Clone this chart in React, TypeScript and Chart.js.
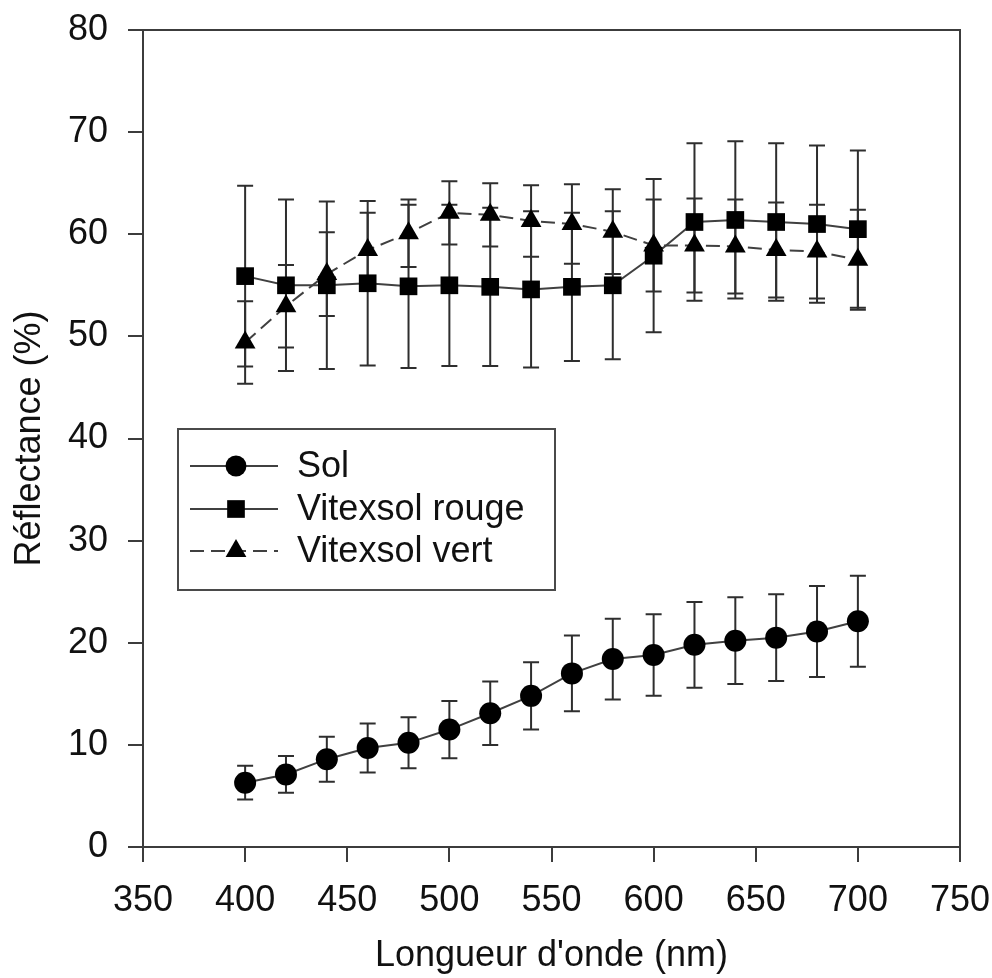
import React, { useEffect, useRef } from "react";
import { Chart, registerables } from "chart.js";

Chart.register(...registerables);

const wavelengths = [400, 420, 440, 460, 480, 500, 520, 540, 560, 580, 600, 620, 640, 660, 680, 700];

const solMean = [6.3, 7.1, 8.6, 9.7, 10.2, 11.5, 13.1, 14.8, 17.0, 18.4, 18.8, 19.8, 20.2, 20.5, 21.1, 22.1];
const solSD = [1.65, 1.8, 2.2, 2.4, 2.5, 2.8, 3.1, 3.3, 3.7, 3.95, 4.0, 4.2, 4.25, 4.25, 4.45, 4.45];

const rougeMean = [55.9, 55.0, 55.0, 55.2, 54.9, 55.0, 54.85, 54.6, 54.85, 55.0, 57.9, 61.2, 61.4, 61.2, 61.0, 60.5];
const rougeSD = [8.85, 8.4, 8.2, 8.05, 8.0, 7.9, 7.75, 7.65, 7.25, 7.25, 7.5, 7.7, 7.7, 7.7, 7.7, 7.7];

const vertMean = [49.4, 52.95, 56.1, 58.45, 60.1, 62.1, 61.9, 61.3, 61.0, 60.25, 58.9, 58.9, 58.8, 58.45, 58.3, 57.5];
const vertSD = [4.05, 4.05, 4.1, 3.65, 3.3, 3.1, 3.1, 3.5, 3.9, 4.15, 4.5, 4.6, 4.6, 4.65, 4.6, 4.9];

const seriesLabels = ["Sol", "Vitexsol rouge", "Vitexsol vert"];
const xTitle = "Longueur d'onde (nm)";
const yTitle = "Réflectance (%)";
const xMin = 350, xMax = 750, xStep = 50;
const yMin = 0, yMax = 80, yStep = 10;

const FONT = "'Liberation Sans', Arial, sans-serif";
const AXIS = "#3c3c3c";
const LINE = "#404040";
const TEXT = "#111111";

const errorBarPlugin = {
  id: "errorBars",
  beforeDatasetsDraw(chart: any) {
    const { ctx, scales } = chart;
    const xs = scales.x, ys = scales.y;
    ctx.save();
    ctx.strokeStyle = "#2e2e2e";
    ctx.lineWidth = 2;
    chart.data.datasets.forEach((ds: any) => {
      const err: number[] = ds.errors || [];
      ds.data.forEach((p: any, i: number) => {
        const e = err[i];
        if (e == null) return;
        const x = xs.getPixelForValue(p.x);
        const yt = ys.getPixelForValue(p.y + e);
        const yb = ys.getPixelForValue(p.y - e);
        const cap = 8;
        ctx.beginPath();
        ctx.moveTo(x, yt);
        ctx.lineTo(x, yb);
        ctx.moveTo(x - cap, yt);
        ctx.lineTo(x + cap, yt);
        ctx.moveTo(x - cap, yb);
        ctx.lineTo(x + cap, yb);
        ctx.stroke();
      });
    });
    ctx.restore();
  },
};

const framePlugin = {
  id: "frame",
  afterDraw(chart: any) {
    const { ctx, chartArea } = chart;
    ctx.save();
    ctx.strokeStyle = AXIS;
    ctx.lineWidth = 2;
    ctx.beginPath();
    ctx.moveTo(chartArea.left, chartArea.top);
    ctx.lineTo(chartArea.right, chartArea.top);
    ctx.lineTo(chartArea.right, chartArea.bottom);
    ctx.stroke();
    ctx.restore();
  },
};

const insideLegendPlugin = {
  id: "insideLegend",
  afterDraw(chart: any) {
    const { ctx } = chart;
    const boxL = 178, boxT = 429, boxR = 555, boxB = 590;
    ctx.save();
    ctx.fillStyle = "#ffffff";
    ctx.fillRect(boxL, boxT, boxR - boxL, boxB - boxT);
    ctx.strokeStyle = "#4a4a4a";
    ctx.lineWidth = 2;
    ctx.strokeRect(boxL, boxT, boxR - boxL, boxB - boxT);
    const rows = [466, 509, 551];
    chart.data.datasets.forEach((ds: any, i: number) => {
      const y = rows[i];
      ctx.save();
      ctx.strokeStyle = LINE;
      ctx.lineWidth = 2;
      ctx.setLineDash(ds.borderDash || []);
      ctx.beginPath();
      ctx.moveTo(190, y);
      ctx.lineTo(278, y);
      ctx.stroke();
      ctx.restore();
      ctx.save();
      ctx.fillStyle = "#000";
      const r = ds.pointRadius;
      const x = 236;
      ctx.beginPath();
      if (ds.pointStyle === "circle") {
        ctx.arc(x, y, r * 0.95, 0, Math.PI * 2);
      } else if (ds.pointStyle === "rect") {
        const s = Math.SQRT1_2 * r;
        ctx.rect(x - s, y - s, 2 * s, 2 * s);
      } else {
        const rr = r;
        ctx.moveTo(x, y - rr);
        ctx.lineTo(x + rr * Math.sin((2 * Math.PI) / 3), y - rr * Math.cos((2 * Math.PI) / 3));
        ctx.lineTo(x + rr * Math.sin((4 * Math.PI) / 3), y - rr * Math.cos((4 * Math.PI) / 3));
        ctx.closePath();
      }
      ctx.fill();
      ctx.restore();
      ctx.fillStyle = TEXT;
      ctx.font = `36px ${FONT}`;
      ctx.textAlign = "left";
      ctx.textBaseline = "middle";
      ctx.fillText(ds.label, 297, y + 1);
    });
    ctx.restore();
  },
};

export default function App() {
  const ref = useRef<HTMLCanvasElement | null>(null);

  useEffect(() => {
    if (!ref.current) return;
    const mk = (xs: number[], ys: number[]) => xs.map((x, i) => ({ x, y: ys[i] }));
    const chart = new Chart(ref.current, {
      type: "line",
      data: {
        datasets: [
          {
            label: seriesLabels[0],
            data: mk(wavelengths, solMean),
            errors: solSD,
            borderColor: LINE,
            borderWidth: 2,
            pointStyle: "circle",
            pointRadius: 11,
            pointBackgroundColor: "#000",
            pointBorderColor: "#000",
            pointBorderWidth: 0,
            tension: 0,
          } as any,
          {
            label: seriesLabels[1],
            data: mk(wavelengths, rougeMean),
            errors: rougeSD,
            borderColor: LINE,
            borderWidth: 2,
            pointStyle: "rect",
            pointRadius: 12.5,
            pointBackgroundColor: "#000",
            pointBorderColor: "#000",
            pointBorderWidth: 0,
            tension: 0,
          } as any,
          {
            label: seriesLabels[2],
            data: mk(wavelengths, vertMean),
            errors: vertSD,
            borderColor: LINE,
            borderWidth: 2,
            borderDash: [14, 7],
            pointStyle: "triangle",
            pointRadius: 12,
            pointBackgroundColor: "#000",
            pointBorderColor: "#000",
            pointBorderWidth: 0,
            tension: 0,
          } as any,
        ],
      },
      options: {
        animation: false,
        responsive: false,
        maintainAspectRatio: false,
        layout: { padding: { top: 30, right: 32, left: 0, bottom: 0 } },
        plugins: {
          legend: { display: false },
          tooltip: { enabled: false },
        },
        scales: {
          x: {
            type: "linear",
            min: xMin,
            max: xMax,
            afterFit: (s: any) => {
              s.height = 131;
              s.paddingLeft = 0;
              s.paddingRight = 0;
            },
            ticks: {
              stepSize: xStep,
              autoSkip: false,
              maxRotation: 0,
              color: TEXT,
              padding: 17,
              font: { family: FONT, size: 36 },
            },
            grid: {
              drawOnChartArea: false,
              drawTicks: true,
              tickLength: 15,
              color: AXIS,
              lineWidth: 2,
            },
            border: { display: true, color: AXIS, width: 2 },
            title: {
              display: true,
              text: xTitle,
              color: TEXT,
              font: { family: FONT, size: 36 },
              padding: { top: 0, bottom: 0 },
            },
          },
          y: {
            type: "linear",
            min: yMin,
            max: yMax,
            afterFit: (s: any) => {
              s.width = 143;
              s.paddingTop = 0;
              s.paddingBottom = 0;
            },
            ticks: {
              stepSize: yStep,
              color: TEXT,
              padding: 20,
              font: { family: FONT, size: 36 },
            },
            grid: {
              drawOnChartArea: false,
              drawTicks: true,
              tickLength: 15,
              color: AXIS,
              lineWidth: 2,
            },
            border: { display: true, color: AXIS, width: 2 },
            title: {
              display: true,
              text: yTitle,
              color: TEXT,
              font: { family: FONT, size: 36 },
              padding: { top: 8, bottom: 0 },
            },
          },
        },
      },
      plugins: [errorBarPlugin, framePlugin, insideLegendPlugin],
    } as any);
    return () => chart.destroy();
  }, []);

  return (
    <div style={{ position: "absolute", left: 0, top: 0, width: 992, height: 978, background: "#fff" }}>
      <canvas ref={ref} width={992} height={978} style={{ display: "block" }} />
    </div>
  );
}
